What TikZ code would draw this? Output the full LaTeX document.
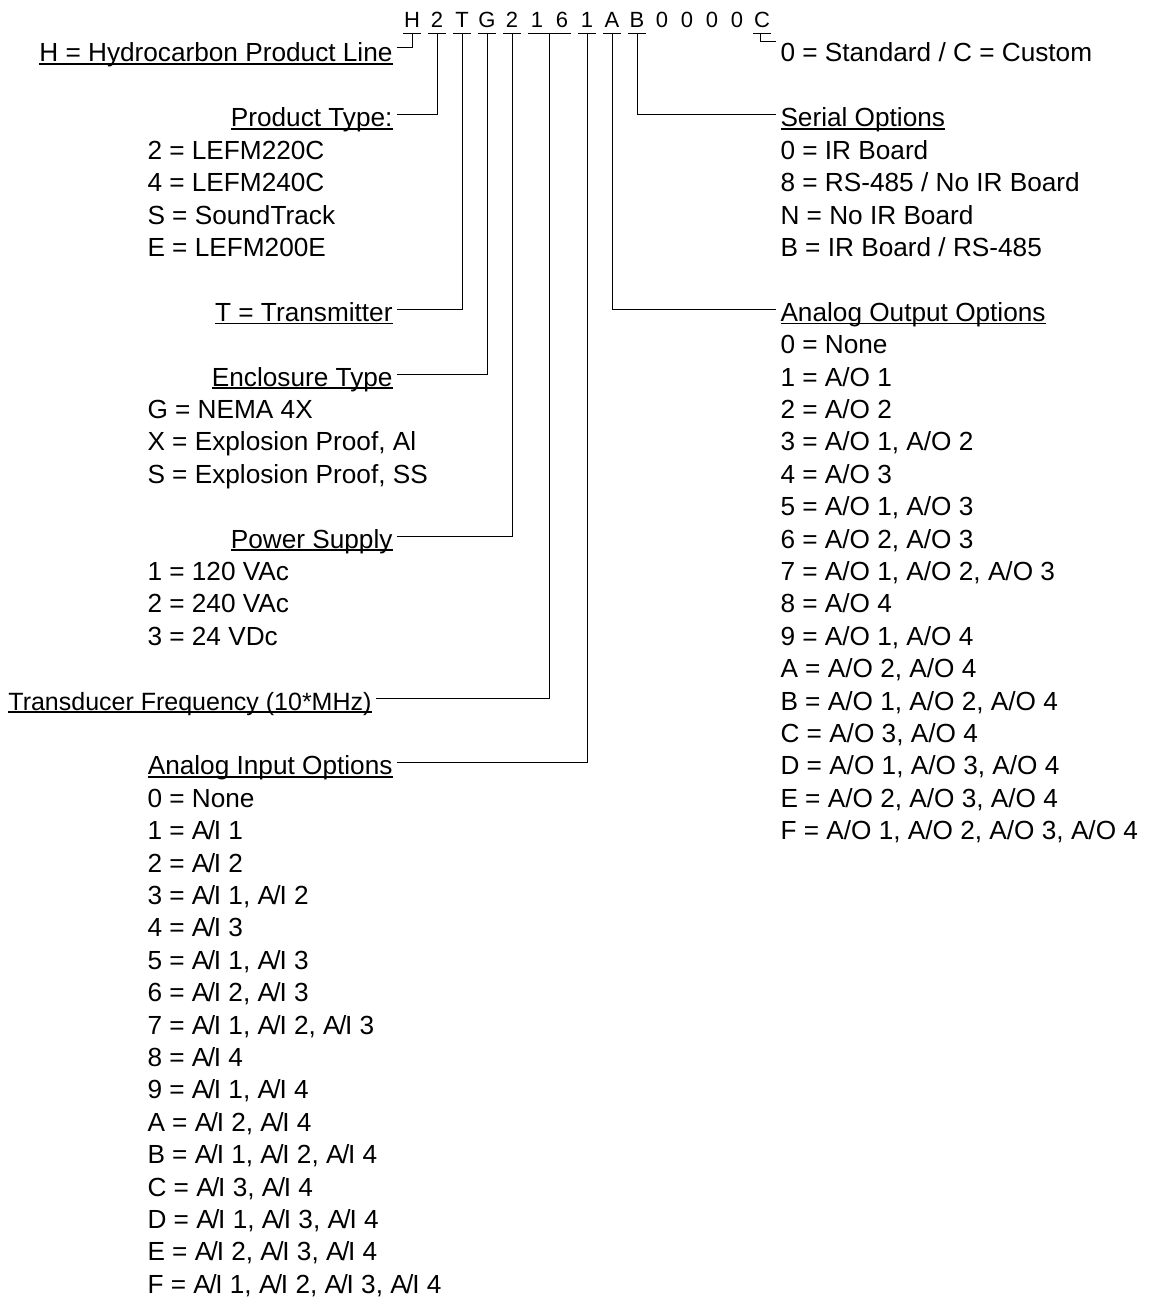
\documentclass[tikz,border=0pt]{standalone}
\usepackage{fontspec}
\setmainfont{Liberation Sans}
\usetikzlibrary{calc}

% underlined heading text
\newcommand\ulhead[1]{\setbox0\hbox{#1}\rlap{\rule[-3pt]{\wd0}{1.7pt}}\box0}
% tightly set analog input tag
\newcommand\ai[1]{A\kern-1.6pt/\kern-1.2pt I #1}

\begin{document}
\begin{tikzpicture}[x=1pt, y=-1pt, line width=1pt,
  every node/.style={font=\fontsize{26.2}{30}\selectfont, inner sep=0pt},
  codechar/.style={font=\fontsize{22}{26}\selectfont, anchor=base, inner ysep=5pt, text depth=0pt},
  lhead/.style={anchor=base east, inner xsep=4pt, text height=24pt, text depth=0pt},
  rhead/.style={anchor=base west, inner xsep=4pt, text height=24pt, text depth=0pt},
  item/.style={anchor=base west}]
  \useasboundingbox (0,0) rectangle (1148,1311);

  % model code, one node per character
  \foreach \ch [count=\k] in {H,2,T,G,2,1,6,1,A,B,0,0,0,0,C}
    \node[codechar] (c\k) at ({387+25*\k},28) {\ch};

  % left hand headings
  \node[lhead] (hline) at (397,62) {\ulhead{H = Hydrocarbon Product Line}};
  \node[lhead] (ptype) at (397,{62+32.4*2}) {\ulhead{Product Type:}};
  \node[lhead] (trans) at (397,{62+32.4*8}) {\ulhead{T = Transmitter}};
  \node[lhead] (encl) at (397,{62+32.4*10}) {\ulhead{Enclosure Type}};
  \node[lhead] (power) at (397,{62+32.4*15}) {\ulhead{Power Supply}};
  \node[lhead, font=\fontsize{25}{30}\selectfont] (freq) at (376,{62+32.4*20})
    {\ulhead{Transducer Frequency (10*MHz)}};
  \node[lhead] (ain) at (397,{62+32.4*22}) {\ulhead{Analog Input Options}};

  % right hand headings
  \node[rhead] (std) at (776,62) {0 = Standard / C = Custom};
  \node[rhead] (serial) at (776,{62+32.4*2}) {\ulhead{Serial Options}};
  \node[rhead] (aout) at (776,{62+32.4*8}) {\ulhead{Analog Output Options}};

  % option lists
  \foreach \t [count=\i] in {2 = LEFM220C, 4 = LEFM240C, S = SoundTrack, E = LEFM200E}
    \node[item] (pt\i) at (147,{62+32.4*(\i+2)}) {\t};
  \foreach \t [count=\i] in {G = NEMA 4X, {X = Explosion Proof, Al}, {S = Explosion Proof, SS}}
    \node[item] (en\i) at (147,{62+32.4*(\i+10)}) {\t};
  \foreach \t [count=\i] in {1 = 120 VAc, 2 = 240 VAc, 3 = 24 VDc}
    \node[item] (ps\i) at (147,{62+32.4*(\i+15)}) {\t};
  \foreach \t [count=\i] in {0 = None, 1 = \ai1, 2 = \ai2, {3 = \ai1, \ai2}, 4 = \ai3,
      {5 = \ai1, \ai3}, {6 = \ai2, \ai3}, {7 = \ai1, \ai2, \ai3}, 8 = \ai4,
      {9 = \ai1, \ai4}, {A = \ai2, \ai4}, {B = \ai1, \ai2, \ai4}, {C = \ai3, \ai4},
      {D = \ai1, \ai3, \ai4}, {E = \ai2, \ai3, \ai4}, {F = \ai1, \ai2, \ai3, \ai4}}
    \node[item] (ai\i) at (147,{62+32.4*(\i+22)}) {\t};
  \foreach \t [count=\i] in {0 = IR Board, 8 = RS-485 / No IR Board, N = No IR Board, B = IR Board / RS-485}
    \node[item] (so\i) at (780,{62+32.4*(\i+2)}) {\t};
  \foreach \t [count=\i] in {0 = None, 1 = A/O 1, 2 = A/O 2, {3 = A/O 1, A/O 2}, 4 = A/O 3,
      {5 = A/O 1, A/O 3}, {6 = A/O 2, A/O 3}, {7 = A/O 1, A/O 2, A/O 3}, 8 = A/O 4,
      {9 = A/O 1, A/O 4}, {A = A/O 2, A/O 4}, {B = A/O 1, A/O 2, A/O 4}, {C = A/O 3, A/O 4},
      {D = A/O 1, A/O 3, A/O 4}, {E = A/O 2, A/O 3, A/O 4}, {F = A/O 1, A/O 2, A/O 3, A/O 4}}
    \node[item] (ao\i) at (780,{62+32.4*(\i+8)}) {\t};

  % short bars under the coded characters
  \foreach \k in {1,2,3,4,5,8,9,10,15}
    \draw ([xshift=-9pt]c\k.south) -- ([xshift=9pt]c\k.south);
  \draw ([xshift=-9pt]c6.south) -- ([xshift=9pt]c7.south);

  % leaders from each character to its heading
  \draw (c1.south) |- ([yshift=2pt]hline.east);
  \draw (c2.south) |- (ptype.east);
  \draw (c3.south) |- (trans.east);
  \draw (c4.south) |- (encl.east);
  \draw (c5.south) |- (power.east);
  \draw ($(c6.south)!.5!(c7.south)$) |- (freq.east);
  \draw (c8.south) |- (ain.east);
  \draw (c9.south) |- (aout.west);
  \draw (c10.south) |- (serial.west);
  \draw ([xshift=-2pt]c15.south) |- ([yshift=8pt]std.west);
\end{tikzpicture}
\end{document}
